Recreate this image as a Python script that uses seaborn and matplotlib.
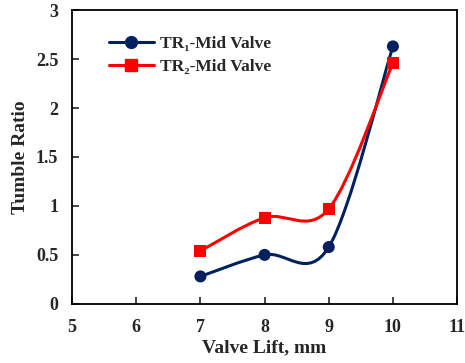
import numpy as np
import pandas as pd
import matplotlib
matplotlib.use("Agg")
import matplotlib.pyplot as plt
from matplotlib.path import Path
from matplotlib.patches import PathPatch
from matplotlib.lines import Line2D
import seaborn as sns

lift = [7, 8, 9, 10]
tr1 = [0.28, 0.50, 0.58, 2.63]
tr2 = [0.54, 0.88, 0.97, 2.46]
series_names = ["TR\u2081-Mid Valve", "TR\u2082-Mid Valve"]
colors = ["#002060", "#FF0000"]
markers = ["o", "s"]

sns.set_style("ticks")
plt.rcParams["font.family"] = ["Liberation Serif", "DejaVu Serif"]
plt.rcParams["font.weight"] = "bold"

fig = plt.figure(figsize=(4.65, 3.63), dpi=100)
ax = fig.add_axes([0.155, 0.163, 0.828, 0.809])

def smooth_path(xs, ys):
    pts = np.column_stack([xs, ys]).astype(float)
    verts = [pts[0]]
    codes = [Path.MOVETO]
    n = len(pts)
    for i in range(n - 1):
        p0 = pts[i - 1] if i > 0 else pts[i]
        p1 = pts[i]
        p2 = pts[i + 1]
        p3 = pts[i + 2] if i + 2 < n else pts[i + 1]
        c1 = p1 + (p2 - p0) / 6.0
        c2 = p2 - (p3 - p1) / 6.0
        verts += [c1, c2, p2]
        codes += [Path.CURVE4] * 3
    return Path(verts, codes)

df = pd.DataFrame({
    "lift": lift * 2,
    "tr": tr1 + tr2,
    "series": [series_names[0]] * 4 + [series_names[1]] * 4,
})

for name, ys, c in zip(series_names, [tr1, tr2], colors):
    ax.add_patch(PathPatch(smooth_path(lift, ys), facecolor="none",
                           edgecolor=c, lw=2.2, zorder=2))

sns.scatterplot(data=df, x="lift", y="tr", hue="series", style="series",
                palette=colors, markers=markers, s=75, edgecolor="none",
                legend=False, ax=ax, zorder=3)

ax.set_xlim(5, 11)
ax.set_ylim(0, 3)
ax.set_xticks(np.arange(5, 12, 1))
ax.set_yticks(np.arange(0, 3.01, 0.5))
ax.set_yticklabels(["0", "0.5", "1", "1.5", "2", "2.5", "3"])
ax.tick_params(direction="in", length=5, width=1.2, labelsize=13)
ax.tick_params(axis="x", pad=11)
ax.tick_params(axis="y", pad=10)
for lab in ax.get_xticklabels() + ax.get_yticklabels():
    lab.set_fontweight("bold")
for sp in ax.spines.values():
    sp.set_linewidth(1.3)
    sp.set_color("black")

ax.set_xlabel("Valve Lift, mm", fontsize=14, fontweight="bold", labelpad=2)
ax.set_ylabel("Tumble Ratio", fontsize=14, fontweight="bold", labelpad=5)

handles = [Line2D([], [], color=c, marker=m, lw=2.2, markersize=8.5)
           for c, m in zip(colors, markers)]
ax.legend(handles, series_names, loc="upper left", bbox_to_anchor=(0.055, 0.965),
          frameon=False, prop={"family": "Liberation Serif", "weight": "bold", "size": 12.5},
          handlelength=2.6, labelspacing=0.4, handletextpad=0.35)

fig.savefig("out.png", dpi=100)
